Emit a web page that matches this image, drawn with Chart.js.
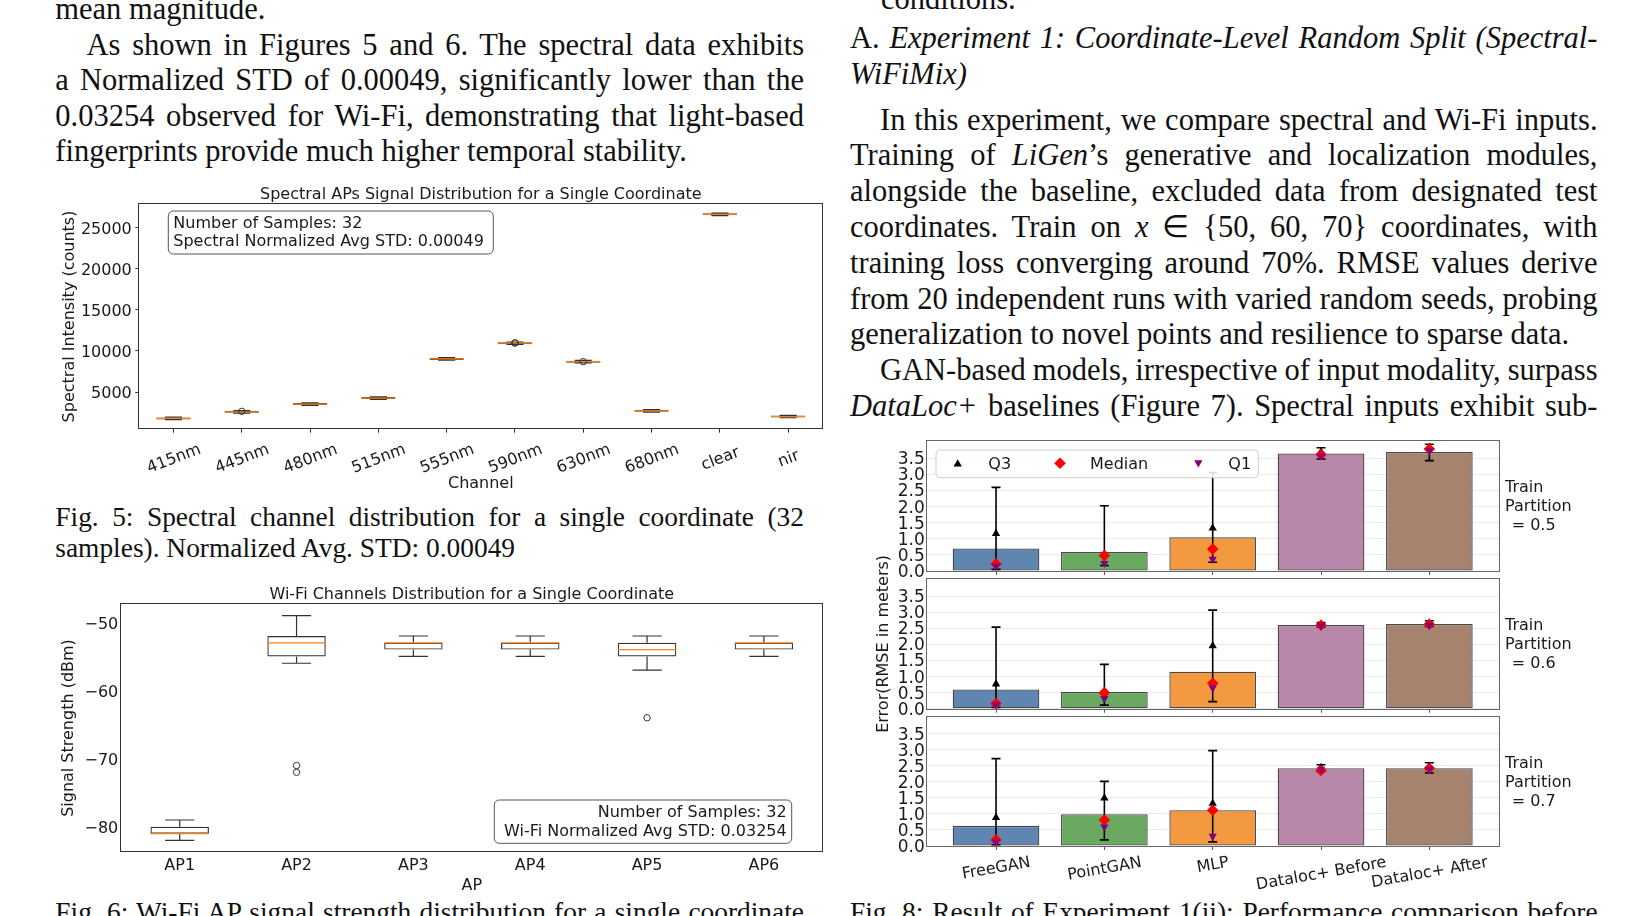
<!DOCTYPE html>
<html>
<head>
<meta charset="utf-8">
<title>Spectral vs Wi-Fi fingerprints</title>
<script src="https://cdn.jsdelivr.net/npm/chart.js@4.4.1/dist/chart.umd.min.js"></script>
<style>
  html, body { margin: 0; padding: 0; background: #fff; }
  body { position: relative; width: 1635px; height: 916px; overflow: hidden; color: #111;
         font-family: "Liberation Serif", "Times New Roman", serif; }
  .ln { position: absolute; white-space: nowrap; font-size: 30.5px; line-height: 35.6px; }
  .cap { font-size: 27.4px; line-height: 30.3px; }
  canvas { position: absolute; left: 0; top: 0; }
</style>
</head>
<body>

<!-- left column -->
<div class="ln" style="left:55.3px;top:-8px">mean magnitude.</div>
<div class="ln j" data-w="717.7" style="left:86.5px;top:27.7px">As shown in Figures 5 and 6. The spectral data exhibits</div>
<div class="ln j" data-w="748.7" style="left:55.3px;top:63.1px">a Normalized STD of 0.00049, significantly lower than the</div>
<div class="ln j" data-w="748.7" style="left:55.3px;top:98.6px">0.03254 observed for Wi-Fi, demonstrating that light-based</div>
<div class="ln" style="left:55.3px;top:134px">fingerprints provide much higher temporal stability.</div>

<div class="ln cap j" data-w="748.7" style="left:55.3px;top:502.3px">Fig. 5: Spectral channel distribution for a single coordinate (32</div>
<div class="ln cap" style="left:55.3px;top:532.6px">samples). Normalized Avg. STD: 0.00049</div>
<div class="ln cap j" data-w="748.7" style="left:55.3px;top:897.4px">Fig. 6: Wi-Fi AP signal strength distribution for a single coordinate</div>

<!-- right column -->
<div class="ln" style="left:881px;top:-18.5px">conditions.</div>
<div class="ln j" data-w="747.5" style="left:850px;top:21.2px">A. <i>Experiment 1: Coordinate-Level Random Split (Spectral-</i></div>
<div class="ln" style="left:850px;top:56.7px"><i>WiFiMix)</i></div>
<div class="ln j" data-w="717.5" style="left:880px;top:102.6px">In this experiment, we compare spectral and Wi-Fi inputs.</div>
<div class="ln j" data-w="747.5" style="left:850px;top:138.4px">Training of <i>LiGen</i>’s generative and localization modules,</div>
<div class="ln j" data-w="747.5" style="left:850px;top:174.2px">alongside the baseline, excluded data from designated test</div>
<div class="ln j" data-w="747.5" style="left:850px;top:210px">coordinates. Train on <i>x</i> ∈ {50, 60, 70} coordinates, with</div>
<div class="ln j" data-w="747.5" style="left:850px;top:245.8px">training loss converging around 70%. RMSE values derive</div>
<div class="ln j" data-w="747.5" style="left:850px;top:281.6px">from 20 independent runs with varied random seeds, probing</div>
<div class="ln" style="left:850px;top:317.4px">generalization to novel points and resilience to sparse data.</div>
<div class="ln j" data-w="717.5" style="left:880px;top:353.2px">GAN-based models, irrespective of input modality, surpass</div>
<div class="ln j" data-w="747.5" style="left:850px;top:389px"><i>DataLoc+</i> baselines (Figure 7). Spectral inputs exhibit sub-</div>

<div class="ln cap j" data-w="747.5" style="left:850px;top:897.4px">Fig. 8: Result of Experiment 1(ii): Performance comparison before</div>

<canvas id="fig5" width="1635" height="916"></canvas>
<canvas id="fig6" width="1635" height="916"></canvas>
<canvas id="fig8a" width="1635" height="916"></canvas>
<canvas id="fig8b" width="1635" height="916"></canvas>
<canvas id="fig8c" width="1635" height="916"></canvas>

<script>
// ---- Fig. 5 data: spectral channels (counts) ----
const channels = ['415nm', '445nm', '480nm', '515nm', '555nm', '590nm', '630nm', '680nm', 'clear', 'nir'];
const specLo  = [1650, 2450, 3390, 4120, 8870, 10780, 8540, 2570, 26430, 1880];
const specQ1  = [1680, 2480, 3420, 4150, 8900, 10810, 8570, 2600, 26460, 1910];
const specMed = [1800, 2600, 3540, 4270, 9020, 10930, 8690, 2720, 26580, 2030];
const specQ3  = [1920, 2720, 3660, 4390, 9140, 11050, 8810, 2840, 26700, 2150];
const specHi  = [1950, 2750, 3690, 4420, 9170, 11080, 8840, 2870, 26730, 2180];
const specOutliers = [{ x: '445nm', y: 2660 }, { x: '590nm', y: 10950 }, { x: '590nm', y: 10980 }, { x: '630nm', y: 8690 }];
const specTicks = [5000, 10000, 15000, 20000, 25000];

// ---- Fig. 6 data: Wi-Fi APs (dBm) ----
const aps = ['AP1', 'AP2', 'AP3', 'AP4', 'AP5', 'AP6'];
const wifiLo  = [-82, -56, -55, -55, -57, -55];
const wifiQ1  = [-81, -55, -54, -54, -55, -54];
const wifiMed = [-81, -53, -53, -53, -54, -53];
const wifiQ3  = [-80, -52, -53, -53, -53, -53];
const wifiHi  = [-79, -49, -52, -52, -52, -52];
const wifiOutliers = [{ x: 'AP2', y: -71 }, { x: 'AP2', y: -72 }, { x: 'AP5', y: -64 }];
const wifiTicks = [-80, -70, -60, -50];

// ---- Fig. 8 data: RMSE (m) per model and train partition ----
const models = ['FreeGAN', 'PointGAN', 'MLP', 'Dataloc+ Before', 'Dataloc+ After'];
const yTicks8 = [0, 0.5, 1, 1.5, 2, 2.5, 3, 3.5];

const mean05 = [0.70, 0.59, 1.05, 3.65, 3.70];
const lo05   = [0.05, 0.17, 0.27, 3.48, 3.43];
const hi05   = [2.60, 2.03, 3.06, 3.83, 3.94];
const q3_05  = [1.16, 0.50, 1.33, 3.70, 3.84];
const med05  = [0.22, 0.48, 0.68, 3.62, 3.79];
const q1_05  = [0.15, 0.24, 0.37, 3.58, 3.74];

const mean06 = [0.60, 0.52, 1.15, 2.61, 2.64];
const lo06   = [0.04, 0.11, 0.22, 2.55, 2.56];
const hi06   = [2.54, 1.38, 3.07, 2.68, 2.74];
const q3_06  = [0.77, 0.53, 1.96, 2.63, 2.66];
const med06  = [0.16, 0.50, 0.79, 2.60, 2.63];
const q1_06  = [0.12, 0.32, 0.65, 2.59, 2.61];

const mean07 = [0.63, 0.99, 1.12, 2.43, 2.43];
const lo07   = [0.04, 0.19, 0.13, 2.33, 2.28];
const hi07   = [2.73, 2.02, 2.98, 2.54, 2.60];
const q3_07  = [0.89, 1.50, 1.33, 2.45, 2.48];
const med07  = [0.19, 0.81, 1.12, 2.36, 2.43];
const q1_07  = [0.13, 0.60, 0.31, 2.40, 2.40];

const barFill = ['rgba(78,121,167,0.9)', 'rgba(89,161,79,0.9)', 'rgba(242,142,43,0.9)',
                 'rgba(176,122,161,0.9)', 'rgba(156,117,95,0.9)'];

// justify body lines to their column width
document.querySelectorAll('.j').forEach(el => {
  const target = parseFloat(el.dataset.w);
  const nat = el.getBoundingClientRect().width;
  const n = (el.textContent.match(/ /g) || []).length;
  if (n) el.style.wordSpacing = ((target - nat) / n).toFixed(2) + 'px';
});

const W = 1635, H = 916;
const SANS = "'DejaVu Sans', 'Liberation Sans', sans-serif";
const INK = '#1a1a1a';
Chart.defaults.font.family = SANS;
Chart.defaults.font.size = 16;
Chart.defaults.color = INK;
Chart.defaults.animation = false;
Chart.defaults.responsive = false;
Chart.defaults.plugins.legend.display = false;
Chart.defaults.plugins.tooltip.enabled = false;

function txt(ctx, s, x, y, o = {}) {
  ctx.save();
  ctx.font = (o.size || 16) + 'px ' + SANS;
  ctx.fillStyle = o.color || INK;
  ctx.textAlign = o.align || 'center';
  ctx.textBaseline = 'middle';
  ctx.translate(x, y);
  if (o.rot) ctx.rotate(o.rot * Math.PI / 180);
  ctx.fillText(s, 0, 1.5);
  ctx.restore();
}

function rbox(ctx, x, y, w, h, r, fill, stroke) {
  ctx.save();
  ctx.beginPath();
  ctx.moveTo(x + r, y);
  ctx.arcTo(x + w, y, x + w, y + h, r);
  ctx.arcTo(x + w, y + h, x, y + h, r);
  ctx.arcTo(x, y + h, x, y, r);
  ctx.arcTo(x, y, x + w, y, r);
  ctx.closePath();
  ctx.fillStyle = fill; ctx.fill();
  ctx.strokeStyle = stroke; ctx.lineWidth = 1; ctx.stroke();
  ctx.restore();
}

function frame(chart, color) {
  const { left, top, right, bottom } = chart.chartArea;
  const ctx = chart.ctx;
  ctx.save();
  ctx.strokeStyle = color; ctx.lineWidth = 1;
  ctx.strokeRect(Math.round(left) - 0.5, Math.round(top) - 0.5, Math.round(right - left) + 1, Math.round(bottom - top) + 1);
  ctx.restore();
}

// whiskers, caps and median of a box plot, placed on the floating-bar boxes
function boxExtras(chart, dsIndex, lo, q1, med, q3, hi) {
  const meta = chart.getDatasetMeta(dsIndex);
  const ys = chart.scales.y, ctx = chart.ctx;
  ctx.save();
  meta.data.forEach((bar, i) => {
    const x = bar.x, hw = bar.width / 2, cw = bar.width / 4;
    const yLo = ys.getPixelForValue(lo[i]), yHi = ys.getPixelForValue(hi[i]);
    ctx.strokeStyle = '#333'; ctx.lineWidth = 1.2;
    ctx.beginPath();
    ctx.moveTo(x, ys.getPixelForValue(q3[i])); ctx.lineTo(x, yHi);
    ctx.moveTo(x, ys.getPixelForValue(q1[i])); ctx.lineTo(x, yLo);
    ctx.moveTo(x - cw, yHi); ctx.lineTo(x + cw, yHi);
    ctx.moveTo(x - cw, yLo); ctx.lineTo(x + cw, yLo);
    ctx.stroke();
    const ym = ys.getPixelForValue(med[i]);
    ctx.strokeStyle = '#ff7f0e'; ctx.lineWidth = 1.2;
    ctx.beginPath(); ctx.moveTo(x - hw, ym); ctx.lineTo(x + hw, ym); ctx.stroke();
  });
  ctx.restore();
}

// rotated category labels under the x axis, centred on each tick
function rotLabels(chart, labels, angle, off, topAnchored) {
  const ctx = chart.ctx, xs = chart.scales.x, B = chart.chartArea.bottom;
  const a = angle * Math.PI / 180;
  ctx.save();
  ctx.font = '16px ' + SANS;
  labels.forEach((lab, i) => {
    let cy = B + off;
    if (topAnchored) cy += (ctx.measureText(lab).width * Math.sin(a) + 16 * Math.cos(a)) / 2;
    txt(ctx, lab, xs.getPixelForValue(i), cy, { rot: -angle });
  });
  ctx.restore();
}

function marker(ctx, style, x, y, r, rot, color) {
  ctx.save();
  ctx.fillStyle = color;
  Chart.helpers.drawPoint(ctx, { pointStyle: style, radius: r, rotation: rot, borderWidth: 0 }, x, y);
  ctx.restore();
}

// ---------------- Fig. 5 ----------------
new Chart(document.getElementById('fig5'), {
  type: 'bar',
  data: {
    labels: channels,
    datasets: [
      { type: 'line', data: specOutliers, showLine: false, pointStyle: 'circle', pointRadius: 3.2,
        pointBorderWidth: 1, pointBorderColor: '#333', pointBackgroundColor: 'rgba(0,0,0,0)', order: 0 },
      { data: channels.map((c, i) => [specQ1[i], specQ3[i]]), backgroundColor: 'rgba(0,0,0,0)',
        borderColor: '#444', borderWidth: 1, borderSkipped: false, barPercentage: 0.5, categoryPercentage: 1, order: 1 }
    ]
  },
  options: {
    layout: { padding: { left: 55, top: 204.3, right: W - 822.3, bottom: H - 428.7 - 30 } },
    scales: {
      x: { type: 'category', offset: true, border: { display: false }, ticks: { display: false },
           grid: { offset: false, drawOnChartArea: false, drawTicks: true, tickLength: 4, color: '#333' },
           afterFit: s => { s.height = 30; } },
      y: { min: 550, max: 27800, border: { display: false },
           afterBuildTicks: s => { s.ticks = specTicks.map(v => ({ value: v })); },
           ticks: { callback: v => String(v), padding: 3.5, autoSkip: false, labelOffset: 2 },
           grid: { drawOnChartArea: false, drawTicks: true, tickLength: 4, color: '#333' },
           afterFit: s => { s.width = 139.3 - 55; } }
    }
  },
  plugins: [{
    id: 'fig5deco',
    afterDatasetDraw(chart, args) { if (args.index === 1) boxExtras(chart, 1, specLo, specQ1, specMed, specQ3, specHi); },
    afterDraw(chart) {
      const ctx = chart.ctx, ca = chart.chartArea;
      frame(chart, '#333');
      rotLabels(chart, channels, 21, 29, false);
      txt(ctx, 'Spectral APs Signal Distribution for a Single Coordinate', (ca.left + ca.right) / 2, 193);
      txt(ctx, 'Channel', (ca.left + ca.right) / 2, 482);
      txt(ctx, 'Spectral Intensity (counts)', 68, (ca.top + ca.bottom) / 2, { rot: -90 });
      rbox(ctx, 168.3, 211, 325, 43, 5, '#fff', '#555');
      txt(ctx, 'Number of Samples: 32', 173.3, 222.7, { align: 'left' });
      txt(ctx, 'Spectral Normalized Avg STD: 0.00049', 173.3, 240.5, { align: 'left' });
    }
  }]
});

// ---------------- Fig. 6 ----------------
new Chart(document.getElementById('fig6'), {
  type: 'bar',
  data: {
    labels: aps,
    datasets: [
      { type: 'line', data: wifiOutliers, showLine: false, pointStyle: 'circle', pointRadius: 3.2,
        pointBorderWidth: 1, pointBorderColor: '#333', pointBackgroundColor: 'rgba(0,0,0,0)', order: 0 },
      { data: aps.map((a, i) => [wifiQ1[i], wifiQ3[i]]), backgroundColor: 'rgba(0,0,0,0)',
        borderColor: '#333', borderWidth: 1.2, borderSkipped: false, barPercentage: 0.5, categoryPercentage: 1, order: 1 }
    ]
  },
  options: {
    layout: { padding: { left: 55, top: 604.3, right: W - 822.3, bottom: H - 851.7 - 30 } },
    scales: {
      x: { type: 'category', offset: true, border: { display: false },
           ticks: { padding: 4.5, autoSkip: false, maxRotation: 0 },
           grid: { offset: false, drawOnChartArea: false, drawTicks: false },
           afterFit: s => { s.height = 30; } },
      y: { min: -83.65, max: -47.35, border: { display: false },
           afterBuildTicks: s => { s.ticks = wifiTicks.map(v => ({ value: v })); },
           ticks: { callback: v => (v < 0 ? '\u2212' : '') + Math.abs(v), padding: 3, autoSkip: false, labelOffset: 2 },
           grid: { drawOnChartArea: false, drawTicks: false },
           afterFit: s => { s.width = 121.3 - 55; } }
    }
  },
  plugins: [{
    id: 'fig6deco',
    afterDatasetDraw(chart, args) { if (args.index === 1) boxExtras(chart, 1, wifiLo, wifiQ1, wifiMed, wifiQ3, wifiHi); },
    afterDraw(chart) {
      const ctx = chart.ctx, ca = chart.chartArea;
      frame(chart, '#333');
      txt(ctx, 'Wi-Fi Channels Distribution for a Single Coordinate', (ca.left + ca.right) / 2, 593.3);
      txt(ctx, 'AP', (ca.left + ca.right) / 2, 884.5);
      txt(ctx, 'Signal Strength (dBm)', 67.3, (ca.top + ca.bottom) / 2, { rot: -90 });
      rbox(ctx, 494.3, 800, 297.4, 43.3, 5, '#fff', '#555');
      txt(ctx, 'Number of Samples: 32', 786.7, 811.7, { align: 'right' });
      txt(ctx, 'Wi-Fi Normalized Avg STD: 0.03254', 786.7, 830, { align: 'right' });
    }
  }]
});

// ---------------- Fig. 8 ----------------
function fig8(id, T, B, part, s, extra) {
  const pts = arr => arr.map((v, i) => ({ x: i, y: v }));
  const xh = 4;
  return new Chart(document.getElementById(id), {
    type: 'bar',
    data: {
      datasets: [
        { type: 'line', label: 'Q1', data: pts(s.q1), showLine: false, pointStyle: 'triangle', pointRotation: 180,
          pointRadius: 4.8, pointBackgroundColor: '#800080', pointBorderWidth: 0, order: 0 },
        { type: 'line', label: 'Median', data: pts(s.med), showLine: false, pointStyle: 'rectRot',
          pointRadius: 5.8, pointBackgroundColor: '#ff0000', pointBorderWidth: 0, order: 1 },
        { type: 'line', label: 'Q3', data: pts(s.q3), showLine: false, pointStyle: 'triangle',
          pointRadius: 4.8, pointBackgroundColor: '#000000', pointBorderWidth: 0, order: 2 },
        { label: 'mean', data: pts(s.mean), backgroundColor: barFill, borderColor: 'rgba(40,40,40,0.85)',
          borderWidth: 1.3, borderSkipped: false, barPercentage: 0.8, categoryPercentage: 1, order: 3 }
      ]
    },
    options: {
      layout: { padding: { left: 850, top: T, right: W - 1498.7, bottom: H - B - xh } },
      scales: {
        x: { type: 'linear', min: -0.64, max: 4.64, offset: false, border: { display: false },
             afterBuildTicks: sc => { sc.ticks = models.map((m, i) => ({ value: i })); },
             ticks: { display: false },
             grid: { offset: false, drawOnChartArea: false, drawTicks: true, tickLength: 4, color: '#555' },
             afterFit: sc => { sc.height = xh; } },
        y: { min: 0, max: 4.04, border: { display: false },
             afterBuildTicks: sc => { sc.ticks = yTicks8.map(v => ({ value: v })); },
             ticks: { callback: v => v.toFixed(1), padding: 2, autoSkip: false, labelOffset: 1.5, font: { size: 17 } },
             grid: { drawTicks: false, color: '#ebebeb' },
             afterFit: sc => { sc.width = 926.7 - 850; } }
      }
    },
    plugins: [{
      id: id + 'deco',
      afterDatasetDraw(chart, args) {
        if (args.meta.type !== 'bar') return;
        const ctx = chart.ctx, xs = chart.scales.x, ys = chart.scales.y;
        ctx.save();
        ctx.strokeStyle = '#000'; ctx.lineWidth = 1.6;
        s.lo.forEach((v, i) => {
          const x = xs.getPixelForValue(i), y1 = ys.getPixelForValue(v), y2 = ys.getPixelForValue(s.hi[i]);
          ctx.beginPath();
          ctx.moveTo(x, y1); ctx.lineTo(x, y2);
          ctx.moveTo(x - 4.5, y1); ctx.lineTo(x + 4.5, y1);
          ctx.moveTo(x - 4.5, y2); ctx.lineTo(x + 4.5, y2);
          ctx.stroke();
        });
        ctx.restore();
      },
      afterDraw(chart) {
        const ctx = chart.ctx, ca = chart.chartArea;
        frame(chart, '#666');
        txt(ctx, 'Train', 1505, ca.top + 45.7, { align: 'left' });
        txt(ctx, 'Partition', 1505, ca.top + 64.7, { align: 'left' });
        txt(ctx, '= ' + part, 1511.7, ca.top + 83.3, { align: 'left' });
        if (extra.legend) {
          rbox(ctx, 936, 450, 322.3, 27.7, 4, 'rgba(255,255,255,0.85)', '#d0d0d0');
          marker(ctx, 'triangle', 957.7, 464, 4.8, 0, '#000000');
          txt(ctx, 'Q3', 988.3, 463.3, { align: 'left' });
          marker(ctx, 'rectRot', 1060, 463.3, 5.8, 0, '#ff0000');
          txt(ctx, 'Median', 1090, 463.3, { align: 'left' });
          marker(ctx, 'triangle', 1198.3, 462.6, 4.8, 180, '#800080');
          txt(ctx, 'Q1', 1228.3, 463.3, { align: 'left' });
        }
        if (extra.ylabel) txt(ctx, 'Error(RMSE in meters)', 882.5, (ca.top + ca.bottom) / 2, { rot: -90 });
        if (extra.xlabels) rotLabels(chart, models, 10, 7.2, true);
      }
    }]
  });
}

fig8('fig8a', 441, 571, '0.5', { mean: mean05, lo: lo05, hi: hi05, q3: q3_05, med: med05, q1: q1_05 }, { legend: true });
fig8('fig8b', 579, 708.7, '0.6', { mean: mean06, lo: lo06, hi: hi06, q3: q3_06, med: med06, q1: q1_06 }, { ylabel: true });
fig8('fig8c', 716.7, 846, '0.7', { mean: mean07, lo: lo07, hi: hi07, q3: q3_07, med: med07, q1: q1_07 }, { xlabels: true });
</script>
</body>
</html>
